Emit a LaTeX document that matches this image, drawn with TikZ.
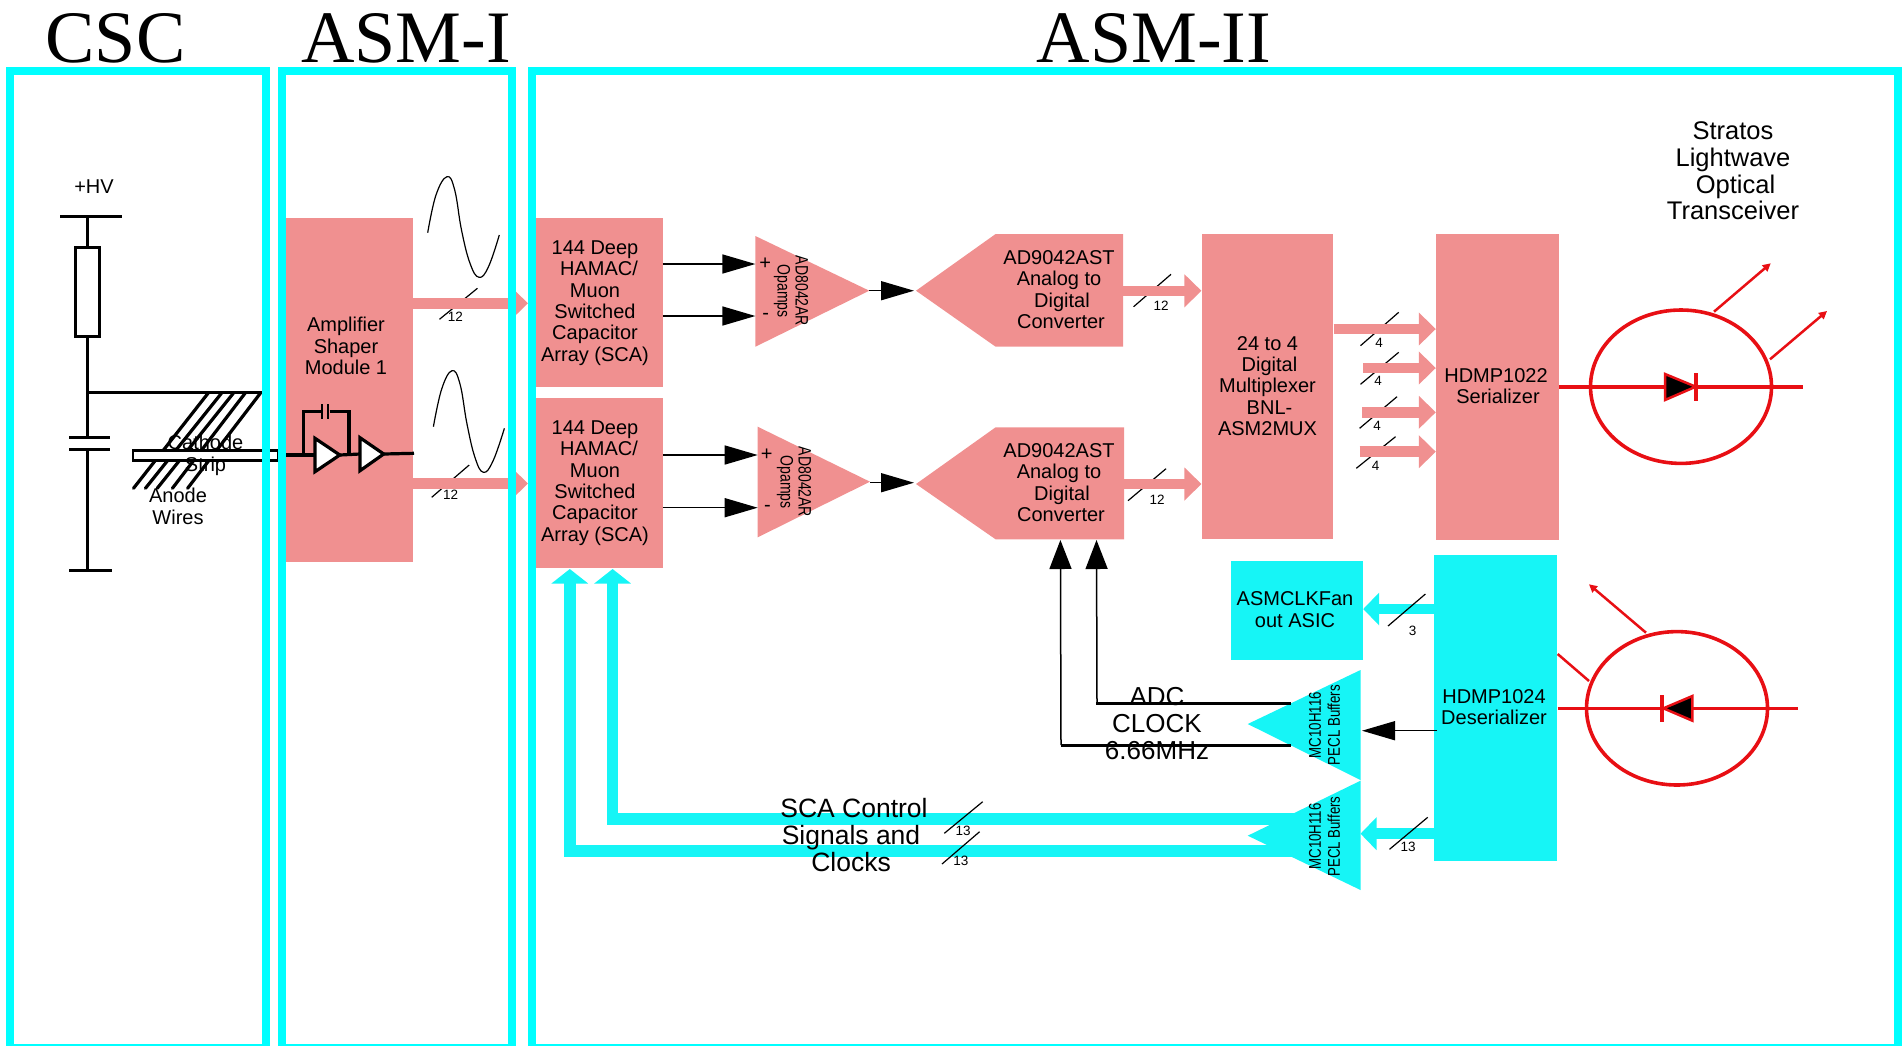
\documentclass[tikz,border=0pt]{standalone}
\usepackage{fontspec}
\usepackage{graphicx}
\setmainfont{Liberation Sans}
\newfontfamily\titlefont{Liberation Serif}
\usetikzlibrary{arrows.meta,shapes.geometric}
\definecolor{framecyan}{HTML}{00FFFF}
\definecolor{boxcyan}{HTML}{16F5F6}
\definecolor{boxpink}{HTML}{F09090}
\definecolor{diodered}{HTML}{E80F14}
\newcommand\fs[2]{\fontsize{#1}{#2}\selectfont}
\newcommand\vsq[1]{\scalebox{.78}[1]{#1}}
\tikzset{
  x=1pt,y=-1pt,
  frameband/.style={draw=framecyan,line width=8pt,line join=miter},
  titletxt/.style={font=\titlefont\fs{74}{74},anchor=base,inner sep=0pt},
  lbl/.style={font=\fs{20}{21.4},align=center,inner sep=0pt},
  biglbl/.style={font=\fs{26}{27},align=center,inner sep=0pt},
  ctl/.style={font=\fs{26.5}{27},align=center,inner sep=0pt},
  tiny/.style={font=\fs{13.5}{14},inner sep=0pt},
  vertlbl/.style={font=\fs{18}{18},align=center,inner sep=0pt,rotate=-90},
  buflbl/.style={font=\fs{17}{19},align=center,inner sep=0pt,rotate=90},
  pinkbox/.style={fill=boxpink,inner sep=0pt},
  cyanbox/.style={fill=boxcyan,inner sep=0pt},
  pinkarrow/.style={draw=boxpink,line width=10.5pt,-{Triangle[length=17pt,width=32pt,fill=boxpink]}},
  cyanarrow/.style={draw=boxcyan,line width=10.5pt,-{Triangle[length=16pt,width=32pt,fill=boxcyan]}},
  cyanup/.style={draw=boxcyan,line width=11.5pt,line join=miter,-{Triangle[length=14.5pt,width=36pt,fill=boxcyan]}},
  blackarrow/.style={draw=black,line width=1.5pt,-{Triangle[length=33pt,width=19pt,fill=black]}},
  blackup/.style={draw=black,line width=1.5pt,-{Triangle[length=29pt,width=22pt,fill=black]}},
  slash/.style={draw=black,line width=1.2pt},
  wire/.style={draw=black,line width=3pt},
  redline/.style={draw=diodered,line width=3.6pt},
  redray/.style={draw=diodered,line width=2.5pt,-{Triangle[length=8pt,width=8pt,fill=diodered]}},
  pdring/.style={draw=diodered,line width=3.6pt,ellipse,minimum width=181pt,minimum height=153.4pt,inner sep=0pt},
}
\begin{document}
\begin{tikzpicture}
\useasboundingbox (0,0) rectangle (1902,1045);
\clip (0,0) rectangle (1902,1045);

% ---- coordinates
\coordinate (hvtop) at (87,216);
\coordinate (hvl) at (60,216);
\coordinate (hvr) at (122,216);
\coordinate (junction) at (87,392.7);
\coordinate (junctionR) at (262,392.7);
\coordinate (capT) at (87,437.3);
\coordinate (capB) at (87,449.3);
\coordinate (gnd) at (87,570.7);

% ---- CSC circuit
\node[draw=black,line width=3pt,fill=white,minimum width=24.3pt,minimum height=88.7pt,inner sep=0pt] (res) at (87.5,292.3) {};
\draw[wire] (hvl) -- (hvr);
\draw[wire] (hvtop) -- (hvtop |- res.north);
\draw[wire] (res.south -| hvtop) -- (capT);
\draw[wire] (junction) -- (junctionR);
\draw[wire] (69,437.3) -- (110,437.3);
\draw[wire] (69,449.3) -- (110,449.3);
\draw[wire] (capB) -- (gnd);
\draw[wire,line width=3.4pt] (69,570.7) -- (111.6,570.7);
\foreach \a/\b in {208/133.5,221.4/145.4,233.3/157.2,245/172.4,260.3/187.6}
  \draw[wire,line width=3.2pt,line cap=round] (\a,393.3) -- (\b,488.3);
\node[draw=black,line width=2.6pt,fill=white,minimum width=145pt,minimum height=9.5pt,inner sep=0pt] (strip) at (205.5,455.5) {};
\node[lbl] (hvtxt) at (94,186.7) {+HV};
\node[lbl] (cathode) at (205.5,455.3) {Cathode\\Strip};
\node[lbl] (anode) at (178,506.3) {Anode\\Wires};

% ---- Amplifier
\node[pinkbox,minimum width=127pt,minimum height=344.3pt] (amp) at (349.5,389.8) {};
\node[lbl] (amptxt) at (346,346) {Amplifier\\Shaper\\Module 1};
\draw[wire,line width=3.2pt] (amp.west |- 0,455) -- (315,455);
\draw[wire,line width=3.2pt] (303.6,455) -- (303.6,411.7) -- (321,411.7);
\draw[wire,line width=3.2pt] (329.6,411.7) -- (349,411.7) -- (349,454);
\draw[wire,line width=2.5pt] (321.8,404.3) -- (321.8,419.3);
\draw[wire,line width=2.5pt] (328,404.3) -- (328,419.3);
\coordinate (t1out) at (339.8,455);
\coordinate (t2in) at (360,454);
\coordinate (t2out) at (383.7,454);
\draw[wire,line width=3.2pt] (t1out) -- (t2in);
\draw[wire,line width=3.2pt] (t2out) -- (414,453.3);
\filldraw[fill=white,draw=black,line width=3.2pt] (315,438.3) -- (315,471.7) -- (t1out) -- cycle;
\filldraw[fill=white,draw=black,line width=3.2pt] (t2in |- 0,437.7) -- (t2in |- 0,470.7) -- (t2out) -- cycle;

% sine traces
\draw[black,line width=1.2pt] plot[smooth,tension=.7] coordinates {(427.7,232.7) (436,195) (447,176.7) (454.7,190) (461.5,230) (470,263.3) (479,277.3) (488.5,266.7) (499.3,235)};
\draw[black,line width=1.2pt] plot[smooth,tension=.7] coordinates {(433.4,426.7) (441.7,389) (452,370.7) (460,384) (467,424) (475,457.5) (483.4,472.3) (493,461) (504.4,428.3)};

% ---- SCA boxes
\node[pinkbox,minimum width=127pt,minimum height=169pt] (sca1) at (599.1,302.8) {};
\node[pinkbox,minimum width=127pt,minimum height=169.4pt] (sca2) at (599.1,483) {};
\node[lbl] (sca1txt) at (595,303) {144 Deep\\\hspace*{8pt}HAMAC/\\Muon\\Switched\\Capacitor\\Array (SCA)};
\node[lbl] (sca2txt) at (595,483) {144 Deep\\\hspace*{8pt}HAMAC/\\Muon\\Switched\\Capacitor\\Array (SCA)};

% pink arrows from amp to sca
\coordinate (a1tip) at (528,303.3);
\coordinate (a2tip) at (528,483.5);
\draw[slash] (439.5,319.3) -- (477.4,288.3);
\draw[slash] (431.7,497.3) -- (469.2,465);
\draw[pinkarrow] (amp.east |- a1tip) -- (a1tip);
\draw[pinkarrow] (amp.east |- a2tip) -- (a2tip);
\node[tiny] (n12a) at (455.4,316.7) {12};
\node[tiny] (n12b) at (450.6,494.3) {12};

% ---- Op amps
\coordinate (op1out) at (869.3,290.7);
\coordinate (op2out) at (870,481.7);
\fill[boxpink] (755.4,236) -- (755.4,346.7) -- (op1out) -- cycle;
\fill[boxpink] (757.7,426.7) -- (757.7,537.3) -- (op2out) -- cycle;
\draw[blackarrow] (sca1.east |- 0,264) -- (755.4,264);
\draw[blackarrow] (sca1.east |- 0,316) -- (755.4,316);
\draw[blackarrow] (sca2.east |- 0,455) -- (757.7,455);
\draw[blackarrow] (sca2.east |- 0,507.7) -- (757.7,507.7);
\node[vertlbl] (op1txt) at (791,291) {\vsq{AD8042AR}\\\vsq{Opamps}};
\node[vertlbl] (op2txt) at (794,482) {\vsq{AD8042AR}\\\vsq{Opamps}};
\node[lbl] (p1) at (765.3,263.3) {+};
\node[lbl] (m1) at (765.7,316.7) {-};
\node[lbl] (p2) at (766.6,455) {+};
\node[lbl] (m2) at (767.5,508) {-};

% ---- ADCs
\coordinate (adc1in) at (916,290.7);
\coordinate (adc2in) at (916,484);
\fill[boxpink] (adc1in) -- (995.6,234) -- (1123,234) -- (1123,346.7) -- (995.6,346.7) -- cycle;
\fill[boxpink] (adc2in) -- (995.6,427.3) -- (1124,427.3) -- (1124,539.3) -- (995.6,539.3) -- cycle;
\draw[blackarrow] (op1out) -- (914,290.7);
\draw[blackarrow] (op2out |- 0,482.7) -- (914,482.7);
\node[lbl] (adc1txt) at (1059,289.7) {AD9042AST\\Analog to\\\hspace*{6pt}Digital\\\hspace*{4pt}Converter};
\node[lbl] (adc2txt) at (1059,482.7) {AD9042AST\\Analog to\\\hspace*{6pt}Digital\\\hspace*{4pt}Converter};

% ---- Mux and serializer
\node[pinkbox,minimum width=131.7pt,minimum height=305.3pt] (mux) at (1267.5,386.7) {};
\node[pinkbox,minimum width=123pt,minimum height=305.7pt] (ser) at (1497.5,387.2) {};
\node[lbl] (muxtxt) at (1267.5,386) {24 to 4\\\hspace*{4pt}Digital\\Multiplexer\\\hspace*{4pt}BNL-\\ASM2MUX};
\node[lbl] (sertxt) at (1496,386.2) {HDMP1022\\\hspace*{4pt}Serializer};

\draw[slash] (1133.6,306.7) -- (1171,274.3);
\draw[slash] (1128,500.7) -- (1166,468.7);
\draw[pinkarrow] (1123,290.8) -- (mux.west |- 0,290.8);
\draw[pinkarrow] (1124,484) -- (mux.west |- 0,484);
\node[tiny] (n12c) at (1161,306) {12};
\node[tiny] (n12d) at (1157,500) {12};

\draw[slash] (1360.5,345.7) -- (1398.7,312.3);
\draw[slash] (1360.5,384.3) -- (1398.7,352.3);
\draw[slash] (1359.6,428.3) -- (1397,396.7);
\draw[slash] (1356.3,468.3) -- (1395.5,436.7);
\coordinate (f1) at (1363,368);
\coordinate (f2) at (1362,412.3);
\coordinate (f3) at (1359.6,451.7);
\draw[pinkarrow] (mux.east |- 0,329) -- (ser.west |- 0,329);
\draw[pinkarrow] (f1) -- (ser.west |- f1);
\draw[pinkarrow] (f2) -- (ser.west |- f2);
\draw[pinkarrow] (f3) -- (ser.west |- f3);
\node[tiny] (n4a) at (1379,342.7) {4};
\node[tiny] (n4b) at (1378,380.7) {4};
\node[tiny] (n4c) at (1377,425.7) {4};
\node[tiny] (n4d) at (1375.7,465.7) {4};

% ---- Cyan blocks
\node[cyanbox,minimum width=132.4pt,minimum height=98.7pt] (clk) at (1296.8,610.3) {};
\node[cyanbox,minimum width=123.5pt,minimum height=305.7pt] (des) at (1495.7,707.8) {};
\node[lbl] (clktxt) at (1295,609.7) {ASMCLKFan\\out ASIC};
\node[lbl] (destxt) at (1494,707) {HDMP1024\\Deserializer};

\coordinate (b1tip) at (1247.7,724);
\coordinate (b2tip) at (1247.7,835.7);
\fill[boxcyan] (1360.5,670) -- (1360.5,780) -- (b1tip) -- cycle;
\fill[boxcyan] (1360.5,780.7) -- (1360.5,890) -- (b2tip) -- cycle;
\node[buflbl] (b1txt) at (1324.5,725) {\scalebox{.78}[1]{MC10H116}\\\scalebox{.78}[1]{PECL Buffers}};
\node[buflbl] (b2txt) at (1324.5,836.5) {\scalebox{.78}[1]{MC10H116}\\\scalebox{.78}[1]{PECL Buffers}};

\draw[cyanarrow] (des.west |- 0,609) -- (clk.east |- 0,609);
\draw[cyanarrow] (des.west |- 0,833.7) -- (1360.5,833.7);
\draw[blackarrow] (1437,730.7) -- (1362,730.7);
\draw[slash] (1388,626) -- (1425.4,594);
\draw[slash] (1389.5,849.3) -- (1427.7,817.3);
\node[tiny] (n3) at (1412.5,631) {3};
\node[tiny] (n13a) at (1408,846.7) {13};

% ---- ADC clock
\coordinate (ck1) at (1290.5,745);
\coordinate (ck2) at (1290.5,703.6);
\draw[wire] (ck1) -- (1061,745);
\draw[wire] (ck2) -- (1095.5,703.6);
\draw[blackup] (1061,745) -- (1060.4,540);
\draw[blackup] (1097,704) -- (1096.5,540);
\node[biglbl] (adctxt) at (1157,723.3) {ADC\\CLOCK\\6.66MHz};

% ---- SCA control
\coordinate (sc1) at (1300,819);
\coordinate (sc2) at (1300,851);
\draw[cyanup] (sc1) -- (612.6,819) -- (612.6,569);
\draw[cyanup] (sc2) -- (569.8,851) -- (569.8,569);
\draw[slash] (944.3,833.3) -- (982.7,801.7);
\draw[slash] (942,864) -- (979.6,831.7);
\node[tiny] (n13b) at (963,831) {13};
\node[tiny] (n13c) at (960.8,860.7) {13};
\node[ctl] (scatxt) at (851,834.7) {\hspace*{6pt}SCA Control\\Signals and\\Clocks};

% ---- Transmit module
\node[lbl,font=\fs{25.5}{26.8}] (stratos) at (1733,171) {Stratos\\Lightwave\\\hspace*{5pt}Optical\\Transceiver};
\node[pdring] (ring1) at (1681,386.7) {};
\coordinate (txend) at (1802.5,386.7);
\draw[redline] (ser.east |- txend) -- (txend);
\filldraw[fill=black,draw=diodered,line width=2.5pt,line join=miter] (1665,374) -- (1665,400) -- (1695.7,386.7) -- cycle;
\draw[redline] (1695.7,373.3) -- (1695.7,401);
\draw[redray] (1714,311.7) -- (1770.7,263.3);
\draw[redray] (1770,359.3) -- (1827,311);

% ---- Receive module
\node[pdring] (ring2) at (1677,708.3) {};
\coordinate (rxend) at (1798,708.3);
\draw[redline] (des.east |- rxend) -- (rxend);
\filldraw[fill=black,draw=diodered,line width=2.5pt,line join=miter] (1692.4,696) -- (1692.4,720.7) -- (1663.4,708.3) -- cycle;
\draw[redline] (1662,695) -- (1662,721.7);
\draw[redray] (1646,632.7) -- (1589,584.3);
\draw[draw=diodered,line width=2.5pt] (des.east |- 0,654) -- (1589,681);

% ---- Frames and titles
\draw[frameband] (9.5,71) rectangle (266,1048);
\draw[frameband] (281.7,71) rectangle (512,1048);
\draw[frameband] (532,71) rectangle (1898,1048);
\node[titletxt] (csc) at (115.5,62) {CSC};
\node[titletxt] (asm1) at (406,62) {ASM-I};
\node[titletxt] (asm2) at (1154,62) {ASM-II};
\end{tikzpicture}
\end{document}
